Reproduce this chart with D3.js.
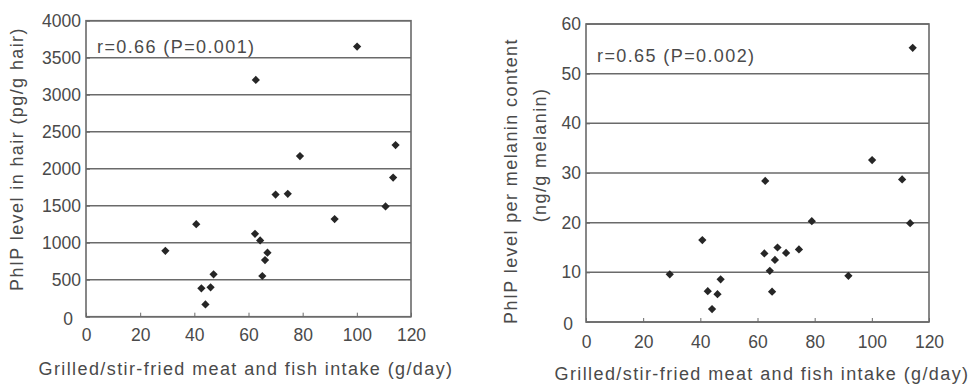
<!DOCTYPE html>
<html>
<head>
<meta charset="utf-8">
<script src="https://cdn.jsdelivr.net/npm/d3@7"></script>
<style>
  body { margin: 0; background: #fff; }
  text { font-family: "Liberation Sans", Arial, Helvetica, sans-serif; fill: #4a4a4a; }
  .lbl { font-size: 18px; letter-spacing: 1.4px; }
  .tick text { font-size: 17.5px; }
</style>
</head>
<body>
<svg id="chart" width="973" height="387"></svg>
<script>
// intake (g/day) for each subject, shared by both panels
let intake = [29.3, 40.7, 42.6, 44.1, 46.0, 47.1, 62.4, 62.7, 64.3, 65.1,
  66.1, 67.0, 70.0, 74.5, 79.0, 91.8, 100.1, 110.6, 113.4, 114.3];
// PhIP in hair (pg/g hair)
let phipHair = [890, 1250, 384, 165, 397, 572, 1120, 3200, 1030, 550,
  766, 865, 1650, 1660, 2170, 1320, 3650, 1490, 1880, 2320];
// PhIP per melanin (ng/g melanin)
let phipMelanin = [9.6, 16.5, 6.2, 2.6, 5.6, 8.6, 13.8, 28.4, 10.3, 6.1,
  12.5, 15.0, 13.9, 14.6, 20.3, 9.3, 32.6, 28.7, 19.9, 55.2];

let xTicks = [0, 20, 40, 60, 80, 100, 120];
let hairTicks = [0, 500, 1000, 1500, 2000, 2500, 3000, 3500, 4000];
let melaninTicks = [0, 10, 20, 30, 40, 50, 60];

let xLabel = "Grilled/stir-fried meat and fish intake (g/day)";

let svg = d3.select("#chart");

function panel(opts) {
  let x = d3.scaleLinear().domain([0, 120]).range([opts.left, opts.right]);
  let y = d3.scaleLinear().domain([0, opts.yMax]).range([opts.bottom, opts.top]);
  let g = svg.append("g");

  // grid lines
  g.selectAll("line.grid")
    .data(opts.yTicks)
    .enter()
    .append("line")
    .attr("class", "grid")
    .attr("x1", opts.left)
    .attr("x2", opts.right)
    .attr("y1", function (d) { return y(d); })
    .attr("y2", function (d) { return y(d); })
    .attr("stroke", "#6a6a6a")
    .attr("stroke-width", 1.5);

  // frame
  g.append("rect")
    .attr("x", opts.left)
    .attr("y", opts.top)
    .attr("width", opts.right - opts.left)
    .attr("height", opts.bottom - opts.top)
    .attr("fill", "none")
    .attr("stroke", "#6a6a6a")
    .attr("stroke-width", 1.6);

  let xAxis = g.append("g")
    .attr("transform", "translate(0," + opts.bottom + ")")
    .call(d3.axisBottom(x).tickValues(xTicks).tickSize(-4).tickPadding(opts.xPad)
      .tickFormat(d3.format("d")));
  let yAxis = g.append("g")
    .attr("transform", "translate(" + opts.left + ",0)")
    .call(d3.axisLeft(y).tickValues(opts.yTicks).tickSize(-4).tickPadding(5)
      .tickFormat(d3.format("d")));
  [xAxis, yAxis].forEach(function (a) {
    a.select(".domain").remove();
    a.selectAll(".tick line").attr("stroke", "#6a6a6a");
    a.selectAll(".tick text").style("fill", "#4a4a4a");
  });
  yAxis.selectAll(".tick text")
    .filter(function (d) { return d === 0; })
    .attr("dx", -8)
    .attr("dy", "0.45em");

  // points
  g.selectAll("path.pt")
    .data(intake)
    .enter()
    .append("path")
    .attr("class", "pt")
    .attr("d", d3.symbol().type(d3.symbolSquare).size(34))
    .attr("transform", function (d, i) {
      return "translate(" + x(d) + "," + y(opts.values[i]) + ") rotate(45)";
    })
    .attr("fill", "#262626");

  g.append("text")
    .attr("class", "lbl")
    .attr("x", opts.left + 11)
    .attr("y", opts.noteY)
    .text(opts.note);

  g.append("text")
    .attr("class", "lbl")
    .attr("x", opts.xLabelX)
    .attr("y", opts.xLabelY)
    .attr("text-anchor", "middle")
    .text(xLabel);

  opts.yLabel.forEach(function (l) {
    g.append("text")
      .attr("class", "lbl")
      .attr("transform", "translate(" + l.x + "," + l.y + ") rotate(-90)")
      .attr("text-anchor", "middle")
      .text(l.text);
  });
}

panel({
  left: 86, right: 411, top: 20.7, bottom: 316.7,
  yMax: 4000, yTicks: hairTicks, values: phipHair,
  xPad: 12, note: "r=0.66 (P=0.001)", noteY: 53,
  xLabelX: 246, xLabelY: 375,
  yLabel: [{ x: 23, y: 159, text: "PhIP level in hair (pg/g hair)" }]
});

panel({
  left: 586, right: 929, top: 24, bottom: 322,
  yMax: 60, yTicks: melaninTicks, values: phipMelanin,
  xPad: 14, note: "r=0.65 (P=0.002)", noteY: 62,
  xLabelX: 762, xLabelY: 380,
  yLabel: [
    { x: 517, y: 181, text: "PhIP level per melanin content" },
    { x: 546, y: 155, text: "(ng/g melanin)" }
  ]
});
</script>
</body>
</html>
